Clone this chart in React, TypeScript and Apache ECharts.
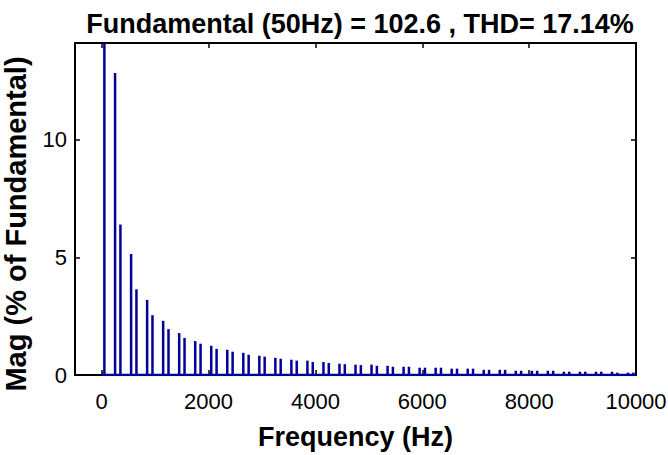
import React, { useEffect, useRef } from "react";
import * as echarts from "echarts";

const harmonicFreqs: number[] = [
  50, 250, 350, 550, 650, 850, 950, 1150, 1250, 1450, 1550, 1750, 1850, 2050, 2150,
  2350, 2450, 2650, 2750, 2950, 3050, 3250, 3350, 3550, 3650, 3850, 3950, 4150, 4250,
  4450, 4550, 4750, 4850, 5050, 5150, 5350, 5450, 5650, 5750, 5950, 6050, 6250, 6350,
  6550, 6650, 6850, 6950, 7150, 7250, 7450, 7550, 7750, 7850, 8050, 8150, 8350, 8450,
  8650, 8750, 8950, 9050, 9250, 9350, 9550, 9650, 9850, 9950,
];
const harmonicMags: number[] = [
  100, 12.83, 6.39, 5.14, 3.64, 3.19, 2.54, 2.3, 1.95, 1.78, 1.57, 1.44, 1.33, 1.24, 1.11,
  1.07, 0.99, 0.94, 0.86, 0.82, 0.78, 0.73, 0.69, 0.65, 0.61, 0.61, 0.55, 0.55, 0.51,
  0.48, 0.46, 0.44, 0.42, 0.44, 0.39, 0.39, 0.35, 0.35, 0.35, 0.31, 0.31, 0.31, 0.31,
  0.27, 0.27, 0.27, 0.27, 0.22, 0.22, 0.22, 0.22, 0.18, 0.18, 0.18, 0.18, 0.18, 0.18,
  0.14, 0.14, 0.14, 0.14, 0.14, 0.14, 0.14, 0.1, 0.1, 0.1,
];
const xTicks: number[] = [0, 2000, 4000, 6000, 8000, 10000];
const yTicks: number[] = [0, 5, 10];
const xRange: number[] = [-500, 10000];
const yRange: number[] = [0, 14.1];
const baseline: number[][] = [[0, 0], [10000, 0]];
const titleText = "Fundamental (50Hz) = 102.6 , THD= 17.14%";
const yLabelText = "Mag (% of Fundamental)";

const FONT = "'Liberation Sans', Arial, sans-serif";
const BLUE = "#000096";

export default function App() {
  const ref = useRef<HTMLDivElement>(null);
  useEffect(() => {
    document.body.style.margin = "0";
    if (!ref.current) return;
    const chart = echarts.init(ref.current, undefined, { renderer: "svg" });
    const tickCommon = {
      inside: true,
      length: 5,
      lineStyle: { color: "#000", width: 1.5 },
    };
    const axisLineCommon = { show: true, onZero: false, lineStyle: { color: "#000", width: 2 } };
    const fmt = (v: number) => String(v);
    chart.setOption({
      animation: false,
      backgroundColor: "#fff",
      title: {
        text: titleText,
        left: 355,
        textAlign: "center",
        top: 5,
        textStyle: { fontFamily: FONT, fontSize: 27, fontWeight: "bold", color: "#000" },
      },
      graphic: [
        {
          type: "text",
          x: 16,
          y: 224,
          rotation: Math.PI / 2,
          style: {
            text: yLabelText,
            fontFamily: FONT,
            fontSize: 29,
            fontWeight: "bold",
            fill: "#000",
            textAlign: "center",
            textVerticalAlign: "middle",
          },
        },
      ],
      grid: { left: 75, right: 32, top: 43, bottom: 80, containLabel: false, outerBoundsMode: "none" },
      xAxis: [
        {
          type: "value",
          min: xRange[0],
          max: xRange[1],
          position: "bottom",
          splitLine: { show: false },
          axisLine: axisLineCommon,
          axisTick: { ...tickCommon, customValues: xTicks },
          axisLabel: {
            customValues: xTicks,
            formatter: fmt,
            fontFamily: FONT,
            fontSize: 22,
            color: "#000",
            margin: 15,
          },
          name: "Frequency (Hz)",
          nameLocation: "middle",
          nameGap: 48,
          nameTextStyle: { fontFamily: FONT, fontSize: 27, fontWeight: "bold", color: "#000" },
        },
        {
          type: "value",
          min: xRange[0],
          max: xRange[1],
          position: "top",
          splitLine: { show: false },
          axisLine: axisLineCommon,
          axisTick: { ...tickCommon, customValues: xTicks },
          axisLabel: { show: false },
        },
      ],
      yAxis: [
        {
          type: "value",
          min: yRange[0],
          max: yRange[1],
          position: "left",
          splitLine: { show: false },
          axisLine: axisLineCommon,
          axisTick: { ...tickCommon, customValues: yTicks },
          axisLabel: {
            customValues: yTicks,
            formatter: fmt,
            fontFamily: FONT,
            fontSize: 22,
            color: "#000",
            margin: 8,
          },
        },
        {
          type: "value",
          min: yRange[0],
          max: yRange[1],
          position: "right",
          splitLine: { show: false },
          axisLine: axisLineCommon,
          axisTick: { ...tickCommon, customValues: yTicks },
          axisLabel: { show: false },
        },
      ],
      series: [
        {
          type: "bar",
          xAxisIndex: 0,
          yAxisIndex: 0,
          barWidth: 2.5,
          clip: true,
          itemStyle: { color: BLUE },
          data: harmonicFreqs.map((f, i) => [f, harmonicMags[i]]),
        },
        {
          type: "line",
          xAxisIndex: 0,
          yAxisIndex: 0,
          symbol: "none",
          lineStyle: { color: BLUE, width: 2.5 },
          data: baseline,
          z: 3,
        },
      ],
    });
    return () => chart.dispose();
  }, []);
  return <div ref={ref} style={{ width: 668, height: 455 }} />;
}
